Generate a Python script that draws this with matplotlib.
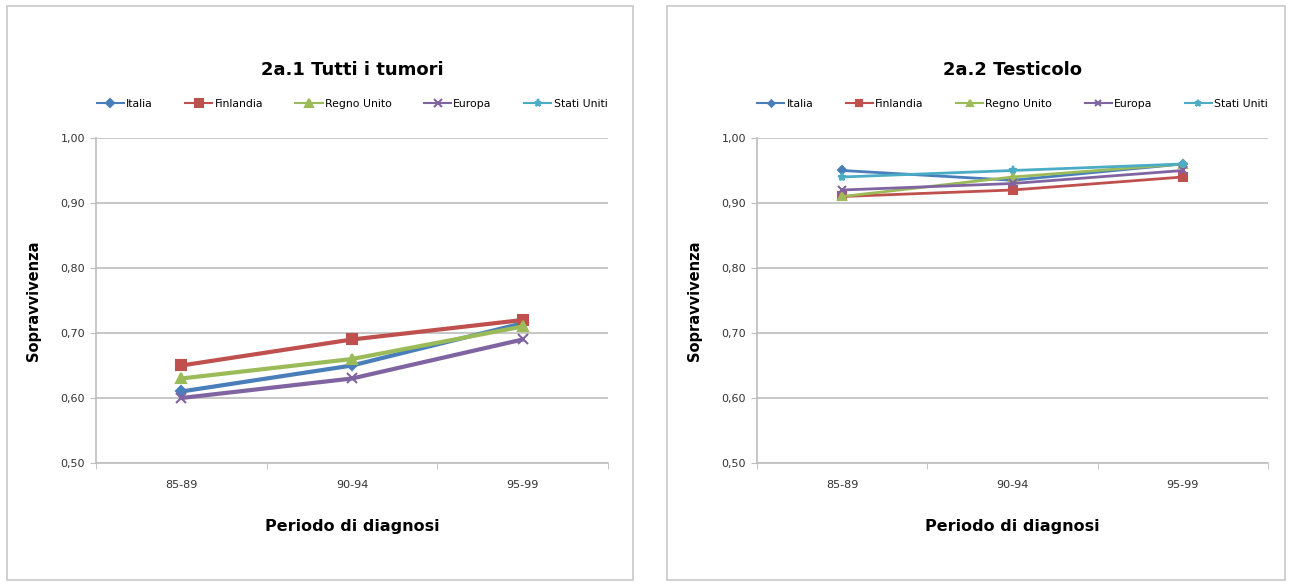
import numpy as np
from matplotlib import pyplot as plt
from matplotlib.patches import Rectangle
from matplotlib.ticker import FuncFormatter, FixedLocator

periods = ['85-89', '90-94', '95-99']
countries = ['Italia', 'Finlandia', 'Regno Unito', 'Europa', 'Stati Uniti']

# 2a.1 Tutti i tumori (no US values shown)
tutti_italia = [0.61, 0.65, 0.715]
tutti_finlandia = [0.65, 0.69, 0.72]
tutti_regno_unito = [0.63, 0.66, 0.71]
tutti_europa = [0.60, 0.63, 0.69]
tutti_stati_uniti = [np.nan, np.nan, np.nan]

# 2a.2 Testicolo
test_italia = [0.95, 0.935, 0.96]
test_finlandia = [0.91, 0.92, 0.94]
test_regno_unito = [0.91, 0.94, 0.96]
test_europa = [0.92, 0.93, 0.95]
test_stati_uniti = [0.94, 0.95, 0.96]

colors = ['#4A7EBB', '#C0504D', '#9BBB59', '#8064A2', '#4BACC6']
markers = ['D', 's', '^', 'x', '*']
marker_sizes = [5, 7, 7, 7, 7]

grid_col = '#BDBDBD'
font = 'DejaVu Sans'


def draw_panel(fig, rect, title, series, lw, ms_scale):
    ax = fig.add_axes(rect)
    x = np.arange(len(periods))
    for name, vals, c, m, ms in zip(countries, series, colors, markers, marker_sizes):
        ax.plot(x, vals, color=c, marker=m, markersize=ms * ms_scale, lw=lw,
                markeredgewidth=1.5, label=name)

    ax.set_xlim(-0.5, 2.5)
    ax.set_ylim(0.5, 1.0)
    ax.set_yticks(np.arange(0.5, 1.001, 0.1))
    ax.yaxis.set_major_formatter(FuncFormatter(lambda v, p: f'{v:.2f}'.replace('.', ',')))
    ax.set_xticks(x)
    ax.set_xticklabels(periods)
    ax.xaxis.set_minor_locator(FixedLocator([-0.5, 0.5, 1.5, 2.5]))
    ax.tick_params(axis='x', which='major', length=0, pad=12, labelsize=8, labelcolor='#333333')
    ax.tick_params(axis='x', which='minor', length=4, color=grid_col, direction='out')
    ax.tick_params(axis='y', length=4, color=grid_col, labelsize=8, labelcolor='#333333', pad=4)

    ax.grid(axis='y', color=grid_col, lw=1.2)
    ax.set_axisbelow(True)
    for s in ['top', 'right']:
        ax.spines[s].set_visible(False)
    for s in ['left', 'bottom']:
        ax.spines[s].set_color(grid_col)
        ax.spines[s].set_linewidth(1.2)

    ax.text(0.5, 1.21, title, transform=ax.transAxes, ha='center', va='center',
            fontsize=13, fontweight='bold', family=font)
    ax.set_ylabel('Sopravvivenza', fontsize=10.5, fontweight='bold')
    ax.yaxis.set_label_coords(-0.107, 0.5)
    ax.set_xlabel('Periodo di diagnosi', fontsize=11.5, fontweight='bold')
    ax.xaxis.set_label_coords(0.5, -0.172)

    ax.legend(loc='center', bbox_to_anchor=(0.5, 1.105), ncol=5, frameon=False,
              fontsize=7.8, handlelength=2.5, columnspacing=3.0, handletextpad=0.2,
              markerscale=0.75)
    for line in ax.get_legend().get_lines():
        line.set_linewidth(1.5)
    return ax


def main():
    plt.rcParams['font.family'] = font
    fig = plt.figure(figsize=(12.92, 5.85), dpi=100)

    W, H = 1292, 585
    # panel borders
    for x0, x1 in [(7, 633), (667, 1285)]:
        fig.patches.append(Rectangle((x0 / W, 1 - 580 / H), (x1 - x0) / W, 574 / H,
                                     transform=fig.transFigure, fill=False,
                                     edgecolor='#C8C8C8', lw=1.2))

    ytop, ybot = 138, 463
    left_series = [tutti_italia, tutti_finlandia, tutti_regno_unito, tutti_europa, tutti_stati_uniti]
    right_series = [test_italia, test_finlandia, test_regno_unito, test_europa, test_stati_uniti]

    draw_panel(fig, [96 / W, 1 - ybot / H, 512 / W, (ybot - ytop) / H],
               '2a.1 Tutti i tumori', left_series, 3, 1.0)
    draw_panel(fig, [757 / W, 1 - ybot / H, 511 / W, (ybot - ytop) / H],
               '2a.2 Testicolo', right_series, 2, 0.85)

    fig.savefig('out.png', dpi=100)


if __name__ == '__main__':
    main()
